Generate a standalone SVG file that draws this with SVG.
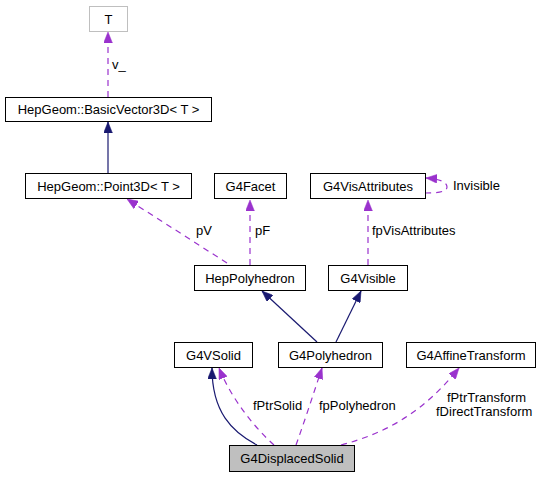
<svg xmlns="http://www.w3.org/2000/svg" width="540" height="477" viewBox="0 0 540 477">
<style>
.box{fill:#fff;stroke:#000;stroke-width:1}
.t{font-family:"Liberation Sans",Arial,sans-serif;font-size:13px;fill:#000}
.c{text-anchor:middle}
.inh{fill:none;stroke:#191970;stroke-width:1.2}
.use{fill:none;stroke:#9a32cd;stroke-width:1.2;stroke-dasharray:6,5}
</style>
<defs>
<marker id="an" viewBox="0 0 10 8" refX="10" refY="4" markerWidth="11" markerHeight="9" markerUnits="userSpaceOnUse" orient="auto"><path d="M0,0 L10,4 L0,8 Z" fill="#191970" stroke="#191970" stroke-width="0.5"/></marker>
<marker id="ap" viewBox="0 0 10 8" refX="10" refY="4" markerWidth="11" markerHeight="9" markerUnits="userSpaceOnUse" orient="auto"><path d="M0,0 L10,4 L0,8 Z" fill="#9a32cd" stroke="#9a32cd" stroke-width="0.5"/></marker>
</defs>
<rect width="540" height="477" fill="#fff"/>
<g id="edges">
<path class="use" d="M108,97 L108,32" marker-end="url(#ap)"/>
<text class="t" x="112" y="69">v_</text>
<path class="inh" d="M108,173 L108,122" marker-end="url(#an)"/>
<path class="use" d="M227,263 L127,199" marker-end="url(#ap)"/>
<text class="t" x="196" y="235">pV</text>
<path class="use" d="M250,265 L250,200" marker-end="url(#ap)"/>
<text class="t" x="255" y="235">pF</text>
<path class="use" d="M368,265 L368,200" marker-end="url(#ap)"/>
<text class="t" x="372" y="235">fpVisAttributes</text>
<path class="use" d="M425,193 C437,193 447,192 447,187 C447,182 440,179 426,178" marker-end="url(#ap)"/>
<text class="t" x="453" y="190">Invisible</text>
<path class="inh" d="M317,342 L262,291" marker-end="url(#an)"/>
<path class="inh" d="M336,342 L361,291" marker-end="url(#an)"/>
<path class="inh" d="M257,445 C232,432 212,412 212,368" marker-end="url(#an)"/>
<path class="use" d="M274,445 C255,428 232,400 219,368" marker-end="url(#ap)"/>
<text class="t" x="253" y="410">fPtrSolid</text>
<path class="use" d="M296,445 C305,420 314,392 322,368" marker-end="url(#ap)"/>
<text class="t" x="319" y="410">fpPolyhedron</text>
<path class="use" d="M341,445 C390,432 425,410 459,368" marker-end="url(#ap)"/>
<text class="t" x="447" y="402">fPtrTransform</text>
<text class="t" x="436" y="416">fDirectTransform</text>
</g>
<g id="node-T"><rect x="89.5" y="6.5" width="38" height="25" fill="#fff" stroke="#bfbfbf"/><text class="t c" x="108.5" y="23.5">T</text></g>
<g id="node-BasicVector3D"><rect class="box" x="5.5" y="97.5" width="206" height="24"/><text class="t c" x="108.5" y="114">HepGeom::BasicVector3D&lt; T &gt;</text></g>
<g id="node-Point3D"><rect class="box" x="25.5" y="173.5" width="166" height="25"/><text class="t c" x="108.5" y="190.5">HepGeom::Point3D&lt; T &gt;</text></g>
<g id="node-G4Facet"><rect class="box" x="214.5" y="173.5" width="72" height="25"/><text class="t c" x="250.5" y="190.5">G4Facet</text></g>
<g id="node-G4VisAttributes"><rect class="box" x="310.5" y="173.5" width="115" height="25"/><text class="t c" x="368" y="190.5">G4VisAttributes</text></g>
<g id="node-HepPolyhedron"><rect class="box" x="194.5" y="265.5" width="111" height="25"/><text class="t c" x="250" y="282.5">HepPolyhedron</text></g>
<g id="node-G4Visible"><rect class="box" x="328.5" y="265.5" width="79" height="25"/><text class="t c" x="368" y="282.5">G4Visible</text></g>
<g id="node-G4VSolid"><rect class="box" x="174.5" y="342.5" width="78" height="25"/><text class="t c" x="213.5" y="359.5">G4VSolid</text></g>
<g id="node-G4Polyhedron"><rect class="box" x="278.5" y="342.5" width="104" height="25"/><text class="t c" x="330.5" y="359.5">G4Polyhedron</text></g>
<g id="node-G4AffineTransform"><rect class="box" x="406.5" y="342.5" width="129" height="25"/><text class="t c" x="471" y="359.5">G4AffineTransform</text></g>
<g id="node-G4DisplacedSolid"><rect x="229.5" y="445.5" width="125" height="26" fill="#bfbfbf" stroke="#000"/><text class="t c" x="292" y="463">G4DisplacedSolid</text></g>
</svg>
